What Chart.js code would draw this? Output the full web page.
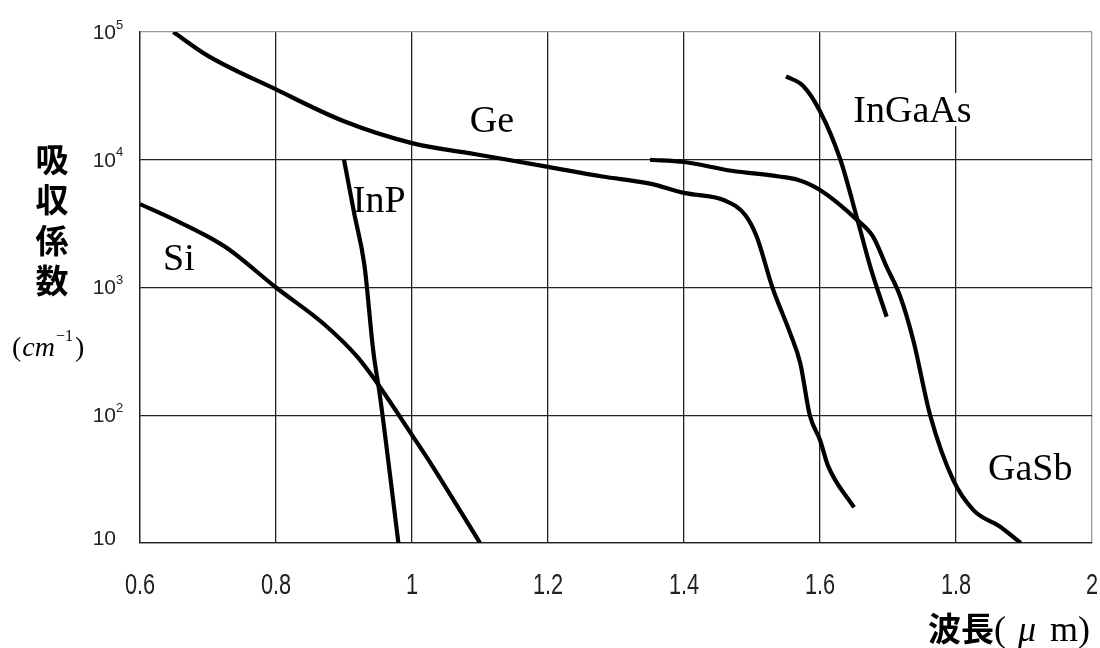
<!DOCTYPE html>
<html>
<head>
<meta charset="utf-8">
<script src="https://cdn.jsdelivr.net/npm/chart.js@4"></script>
<style>
  body { margin: 0; background: #fff; }
  canvas { display: block; }
</style>
</head>
<body>
<canvas id="myChart" width="1100" height="648"></canvas>
<script>
// wavelength (um) and absorption coefficient (cm^-1)
const siWl  = [0.6, 0.65, 0.7, 0.73, 0.8, 0.87, 0.92, 0.95, 1.0, 1.03, 1.1]
const siAbs = [4500, 3400, 2500, 2000, 1000, 520, 285, 175, 70, 40, 10]

const inpWl  = [0.9, 0.915, 0.93, 0.943, 0.953, 0.98]
const inpAbs = [10000, 3800, 1500, 320, 140, 10]

const geWl  = [0.649, 0.7, 0.8, 0.9, 1.0, 1.1, 1.2, 1.28, 1.35, 1.4, 1.46, 1.49, 1.507, 1.53, 1.556, 1.571, 1.585, 1.6, 1.612, 1.65]
const geAbs = [100000, 65000, 35500, 20000, 13500, 10900, 8800, 7400, 6500, 5500, 4800, 3700, 2500, 1000, 440, 255, 100, 64, 40, 19]

const gasbWl  = [1.35, 1.4, 1.47, 1.54, 1.566, 1.6, 1.654, 1.678, 1.698, 1.718, 1.737, 1.762, 1.796, 1.826, 1.865, 1.895]
const gasbAbs = [10000, 9600, 8200, 7400, 7000, 5800, 3400, 2500, 1450, 850, 390, 100, 31, 18, 13.4, 10]

const ingaasWl  = [1.55, 1.575, 1.6, 1.63, 1.655, 1.674, 1.698]
const ingaasAbs = [45000, 38000, 24000, 10000, 3400, 1450, 590]

const xTicks = [0.6, 0.8, 1.0, 1.2, 1.4, 1.6, 1.8, 2.0]
const xTickLabels = ['0.6', '0.8', '1', '1.2', '1.4', '1.6', '1.8', '2']
const yTicks = [10, 100, 1000, 10000, 100000]
const yTickExp = ['', '2', '3', '4', '5']

// curve names with anchor point (wavelength, coefficient) for the text
const labelNames = ['Ge', 'InP', 'Si', 'InGaAs', 'GaSb']
const labelWl    = [1.085, 0.913, 0.634, 1.649, 1.847]
const labelAbs   = [16500, 3900, 1370, 19700, 31]

function pts(xs, ys) {
  return xs.map((x, i) => ({ x: x, y: ys[i] }))
}

function curve(xs, ys) {
  return {
    data: pts(xs, ys),
    borderColor: '#000',
    borderWidth: 4.2,
    pointRadius: 0,
    fill: false,
    cubicInterpolationMode: 'monotone'
  }
}

const curveLabels = {
  id: 'curveLabels',
  beforeDatasetsDraw(chart) {
    const ctx = chart.ctx
    const xs = chart.scales.x, ys = chart.scales.y
    ctx.save()
    ctx.font = '38px "Liberation Serif"'
    ctx.textBaseline = 'alphabetic'
    ctx.textAlign = 'left'
    for (let i = 0; i < labelNames.length; i++) {
      const px = xs.getPixelForValue(labelWl[i])
      const py = ys.getPixelForValue(labelAbs[i])
      const w = ctx.measureText(labelNames[i]).width
      ctx.fillStyle = '#fff'
      ctx.fillRect(px - 1, py - 29, w + 2, 33)
      ctx.fillStyle = '#000'
      ctx.fillText(labelNames[i], px, py)
    }
    ctx.restore()
  }
}

const axisText = {
  id: 'axisText',
  afterDraw(chart) {
    const ctx = chart.ctx
    const xs = chart.scales.x, ys = chart.scales.y
    ctx.save()
    ctx.fillStyle = '#222'

    // x tick labels (narrow sans)
    ctx.font = '29px "Liberation Sans"'
    ctx.textAlign = 'center'
    ctx.textBaseline = 'middle'
    for (let i = 0; i < xTicks.length; i++) {
      const px = xs.getPixelForValue(xTicks[i])
      ctx.save()
      ctx.translate(px, 586)
      ctx.scale(0.75, 1)
      ctx.fillText(xTickLabels[i], 0, 0)
      ctx.restore()
    }

    // y tick labels 10^n
    for (let i = 0; i < yTicks.length; i++) {
      const py = ys.getPixelForValue(yTicks[i])
      const off = yTickExp[i] === '' ? -4 : 1
      ctx.font = '21px "Liberation Sans"'
      ctx.textAlign = 'right'
      ctx.textBaseline = 'middle'
      ctx.fillText('10', 116, py + off)
      if (yTickExp[i] !== '') {
        ctx.font = '13px "Liberation Sans"'
        ctx.textAlign = 'left'
        ctx.fillText(yTickExp[i], 116, py - 7)
      }
    }

    // y title
    ctx.fillStyle = '#000'
    ctx.font = 'bold 33px "Noto Sans CJK JP"'
    ctx.textAlign = 'center'
    ctx.textBaseline = 'middle'
    const ytitle = '吸収係数'
    for (let i = 0; i < ytitle.length; i++) {
      ctx.fillText(ytitle[i], 52, 159 + 40.5 * i)
    }

    // (cm^-1)
    ctx.textAlign = 'left'
    ctx.textBaseline = 'alphabetic'
    let cx = 12
    ctx.font = '28px "Liberation Serif"'
    ctx.fillText('(', cx, 356); cx += ctx.measureText('(').width + 1
    ctx.font = 'italic 28px "Liberation Serif"'
    ctx.fillText('cm', cx, 356); cx += ctx.measureText('cm').width + 1
    ctx.font = '16px "Liberation Serif"'
    ctx.fillText('\u22121', cx, 341); cx += ctx.measureText('\u22121').width + 2
    ctx.font = '28px "Liberation Serif"'
    ctx.fillText(')', cx, 356)

    // x title
    let tx = 928
    ctx.font = 'bold 33px "Noto Sans CJK JP"'
    ctx.textBaseline = 'alphabetic'
    ctx.fillText('波長', tx, 641); tx += ctx.measureText('波長').width
    ctx.font = '36px "Liberation Serif"'
    ctx.fillText('(', tx, 641); tx += ctx.measureText('(').width + 12
    ctx.font = 'italic 36px "Liberation Serif"'
    ctx.fillText('\u03bc', tx, 641); tx += ctx.measureText('\u03bc').width + 14
    ctx.font = '36px "Liberation Serif"'
    ctx.fillText('m)', tx, 641)
    ctx.restore()
  }
}

const canvas = document.getElementById('myChart').getContext('2d')
const myChart = new Chart(canvas, {
  type: 'line',
  data: {
    datasets: [
      curve(geWl, geAbs),
      curve(siWl, siAbs),
      curve(inpWl, inpAbs),
      curve(gasbWl, gasbAbs),
      curve(ingaasWl, ingaasAbs)
    ]
  },
  options: {
    responsive: false,
    animation: false,
    layout: { padding: { left: 140, top: 32, right: 8, bottom: 105 } },
    plugins: { legend: { display: false }, tooltip: { enabled: false } },
    scales: {
      x: {
        type: 'linear',
        min: 0.6,
        max: 2.0,
        afterBuildTicks: (scale) => { scale.ticks = xTicks.map(v => ({ value: v })) },
        ticks: { display: false },
        grid: {
          drawTicks: false,
          lineWidth: 1.3,
          color: (c) => (c.tick && c.tick.value === 2.0) ? '#9a9a9a' : '#222'
        },
        border: { display: true, color: '#222', width: 1.3 }
      },
      y: {
        type: 'logarithmic',
        min: 10,
        max: 100000,
        afterBuildTicks: (scale) => { scale.ticks = yTicks.map(v => ({ value: v })) },
        ticks: { display: false },
        grid: {
          drawTicks: false,
          lineWidth: 1.3,
          color: (c) => (c.tick && c.tick.value === 100000) ? '#9a9a9a' : '#222'
        },
        border: { display: true, color: '#222', width: 1.3 }
      }
    }
  },
  plugins: [curveLabels, axisText]
})
</script>
</body>
</html>
